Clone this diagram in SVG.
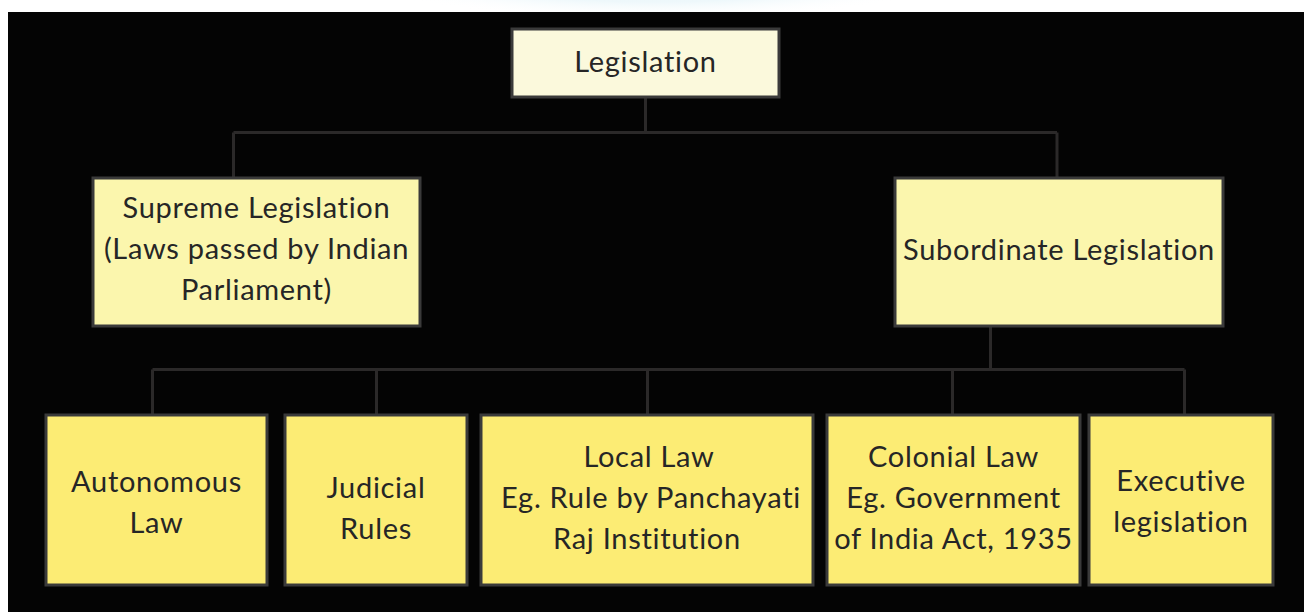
<svg xmlns="http://www.w3.org/2000/svg" width="1304" height="612" viewBox="0 0 1304 612">
  <style>
    .box { stroke: #3a3a3a; stroke-width: 3; }
    .root { fill: #fbf9dc; }
    .mid { fill: #fbf6ad; }
    .leaf { fill: #fcec74; }
    .lbl { font-family: Lato, "Liberation Sans", sans-serif; font-size: 29px; letter-spacing: 0.7px; font-variant-ligatures: none; fill: #262626; text-anchor: middle; }
    .wire { stroke: #2b2929; stroke-width: 3; fill: none; }
  </style>
  <defs>
    <clipPath id="strip"><rect x="0" y="0" width="1304" height="12"/></clipPath>
    <radialGradient id="glow" cx="0.5" cy="0.5" r="0.5">
      <stop offset="0" stop-color="#e6f4fa"/>
      <stop offset="0.7" stop-color="#eef8fb"/>
      <stop offset="1" stop-color="#ffffff" stop-opacity="0"/>
    </radialGradient>
  </defs>

  <!-- page and panel -->
  <rect x="0" y="0" width="1304" height="612" fill="#ffffff"/>
  <ellipse cx="655" cy="-40" rx="330" ry="60" fill="url(#glow)" clip-path="url(#strip)"/>
  <rect x="8" y="12" width="1296" height="600" fill="#040404"/>

  <!-- connectors -->
  <g id="connectors">
    <path class="wire" d="M645.5 97 V132.5 M233.5 132.5 H1057 M233.5 132.5 V178 M1057 132.5 V178"/>
    <path class="wire" d="M990.5 326 V369.5 M152.5 369.5 H1184.5 M152.5 369.5 V415 M376.5 369.5 V415 M647.5 369.5 V415 M952.5 369.5 V415 M1184.5 369.5 V415"/>
  </g>

  <g id="legislation">
    <rect class="box root" x="512" y="29" width="267" height="68"/>
    <text class="lbl" x="645.5" y="72">Legislation</text>
  </g>

  <g id="supreme">
    <rect class="box mid" x="93" y="178" width="327" height="148"/>
    <text class="lbl" x="256.5" y="218">Supreme Legislation</text>
    <text class="lbl" x="256.5" y="259">(Laws passed by Indian</text>
    <text class="lbl" x="256.5" y="300">Parliament)</text>
  </g>

  <g id="subordinate">
    <rect class="box mid" x="895" y="178" width="328" height="148"/>
    <text class="lbl" x="1059" y="260">Subordinate Legislation</text>
  </g>

  <g id="autonomous">
    <rect class="box leaf" x="46" y="415" width="221" height="170"/>
    <text class="lbl" x="156.5" y="492">Autonomous</text>
    <text class="lbl" x="156.5" y="533">Law</text>
  </g>

  <g id="judicial">
    <rect class="box leaf" x="285" y="415" width="182" height="170"/>
    <text class="lbl" x="376" y="498">Judicial</text>
    <text class="lbl" x="376" y="539">Rules</text>
  </g>

  <g id="local">
    <rect class="box leaf" x="481" y="415" width="332" height="170"/>
    <text class="lbl" x="649" y="467">Local Law</text>
    <text class="lbl" x="651" y="508">Eg. Rule by Panchayati</text>
    <text class="lbl" x="647" y="549">Raj Institution</text>
  </g>

  <g id="colonial">
    <rect class="box leaf" x="827" y="415" width="253" height="170"/>
    <text class="lbl" x="953.5" y="467">Colonial Law</text>
    <text class="lbl" x="953.5" y="508">Eg. Government</text>
    <text class="lbl" x="953.5" y="549">of India Act, 1935</text>
  </g>

  <g id="executive">
    <rect class="box leaf" x="1089" y="415" width="184" height="170"/>
    <text class="lbl" x="1181" y="491">Executive</text>
    <text class="lbl" x="1181" y="532">legislation</text>
  </g>
</svg>
